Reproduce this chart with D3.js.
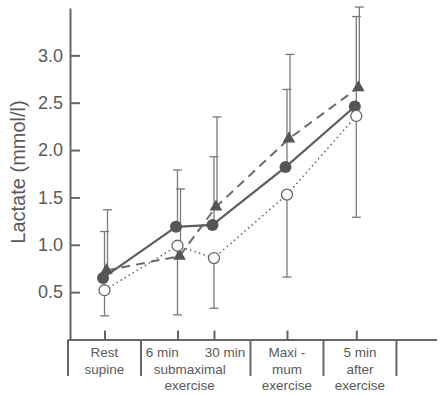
<!DOCTYPE html>
<html>
<head>
<meta charset="utf-8">
<script src="https://cdn.jsdelivr.net/npm/d3@7"></script>
<style>
  body { margin: 0; background: #fff; }
  text { font-family: "Liberation Sans", Arial, sans-serif; fill: #5a5a5a; }
  .axis path, .axis line { stroke: #666; stroke-width: 2; }
  .err { stroke: #7a7a7a; stroke-width: 1.3; fill: none; }
  .sep { stroke: #666; stroke-width: 2; }
</style>
</head>
<body>
<svg id="chart" width="440" height="395"></svg>
<script>
// time points, placed on a "column unit" scale (table columns below the axis)
var timePoints = ['Rest', '6 min', '30 min', 'Maxi', '5 min after'];
var timePos    = [0.5, 1.5, 2.0, 3.0, 3.95];

// mean lactate (mmol/l) and error bar ends
var filledMean = [0.65, 1.19, 1.21, 1.82, 2.46];
var filledTop  = [1.14, 1.79, 1.93, 2.64, 3.41];
var triMean    = [0.73, 0.88, 1.40, 2.12, 2.66];
var triTop     = [1.37, 1.59, 2.35, 3.01, 3.51];
var openMean   = [0.52, 0.99, 0.86, 1.53, 2.36];
var openBottom = [0.25, 0.26, 0.33, 0.66, 1.29];

var yTicks = [0.5, 1.0, 1.5, 2.0, 2.5, 3.0];

// table under the x axis ("|" splits a line into left / right parts)
var colEdges = [0, 1, 2.5, 3.5, 4.5];
var colText = [
  ['Rest', 'supine'],
  ['6 min|30 min', 'submaximal', 'exercise'],
  ['Maxi -', 'mum', 'exercise'],
  ['5 min', 'after', 'exercise']
];

var svg = d3.select('#chart');

var x = d3.scaleLinear().domain([0, 5.05]).range([68, 436.6]);
var y = d3.scaleLinear().domain([0, 3.5]).range([339.5, 8]);

// y axis, ticks pointing inward
var yAxis = d3.axisLeft(y)
  .tickValues(yTicks)
  .tickSize(-10)
  .tickSizeOuter(0)
  .tickPadding(7)
  .tickFormat(d3.format('.1f'));

svg.append('g')
  .attr('class', 'axis')
  .attr('transform', 'translate(70,0)')
  .call(yAxis)
  .selectAll('text')
    .style('font-size', '18px')
    .style('fill', '#5a5a5a');

// x axis line with small upward ticks at each time point
var xAxis = d3.axisBottom(x)
  .tickValues(timePos)
  .tickSize(-9)
  .tickSizeOuter(0)
  .tickFormat('');

svg.append('g')
  .attr('class', 'axis')
  .attr('transform', 'translate(0,' + y(0) + ')')
  .call(xAxis);

// y title
svg.append('text')
  .attr('transform', 'translate(25,' + 172 + ') rotate(-90)')
  .attr('text-anchor', 'middle')
  .style('font-size', '20px')
  .text('Lactate (mmol/l)');

// table separators and labels
svg.append('g').selectAll('line')
  .data(colEdges).enter()
  .append('line')
    .attr('class', 'sep')
    .attr('x1', function(d){ return x(d); })
    .attr('x2', function(d){ return x(d); })
    .attr('y1', y(0))
    .attr('y2', 376);

var labels = svg.append('g');
colText.forEach(function(lines, i){
  var cx = (x(colEdges[i]) + x(colEdges[i + 1])) / 2;
  lines.forEach(function(t, j){
    var ty = 357 + j * 16.5;
    if (t.indexOf('|') >= 0) {
      var parts = t.split('|');
      labels.append('text')
        .attr('x', cx - 17).attr('y', ty)
        .attr('text-anchor', 'end')
        .style('font-size', '13.5px')
        .text(parts[0]);
      labels.append('text')
        .attr('x', cx + 9).attr('y', ty)
        .attr('text-anchor', 'start')
        .style('font-size', '13.5px')
        .text(parts[1]);
      return;
    }
    labels.append('text')
      .attr('x', cx - (i == 1 ? 6 : 0))
      .attr('y', ty)
      .attr('text-anchor', 'middle')
      .style('font-size', '13.5px')
      .text(t);
  });
});

// error bars
function errBars(means, ends, dx) {
  var g = svg.append('g');
  means.forEach(function(m, i){
    var bx = x(timePos[i]) + dx;
    g.append('line').attr('class', 'err')
      .attr('x1', bx).attr('x2', bx)
      .attr('y1', y(m)).attr('y2', y(ends[i]));
    g.append('line').attr('class', 'err')
      .attr('x1', bx - 4.5).attr('x2', bx + 4.5)
      .attr('y1', y(ends[i])).attr('y2', y(ends[i]));
  });
}
errBars(filledMean, filledTop, 0);
errBars(triMean, triTop, 3);
errBars(openMean, openBottom, 0);

// lines
function drawLine(means, dx, width, dash, color) {
  var line = d3.line()
    .x(function(d, i){ return x(timePos[i]) + dx; })
    .y(function(d){ return y(d); });
  svg.append('path')
    .datum(means)
    .attr('d', line)
    .attr('fill', 'none')
    .attr('stroke', color)
    .attr('stroke-width', width)
    .attr('stroke-dasharray', dash);
}
drawLine(openMean, 0, 1.6, '1.5,3.2', '#6a6a6a');
drawLine(triMean, 2, 2, '9,6', '#6a6a6a');
drawLine(filledMean, -1.5, 2.2, null, '#5e5e5e');

// markers
svg.append('g').selectAll('path')
  .data(triMean).enter()
  .append('path')
    .attr('d', d3.symbol().type(d3.symbolTriangle).size(70))
    .attr('transform', function(d, i){ return 'translate(' + (x(timePos[i]) + 2) + ',' + y(d) + ')'; })
    .attr('fill', '#555');

svg.append('g').selectAll('circle')
  .data(filledMean).enter()
  .append('circle')
    .attr('cx', function(d, i){ return x(timePos[i]) - 1.5; })
    .attr('cy', function(d){ return y(d); })
    .attr('r', 6)
    .attr('fill', '#555');

svg.append('g').selectAll('circle')
  .data(openMean).enter()
  .append('circle')
    .attr('cx', function(d, i){ return x(timePos[i]); })
    .attr('cy', function(d){ return y(d); })
    .attr('r', 5.5)
    .attr('fill', '#fff')
    .attr('stroke', '#666')
    .attr('stroke-width', 1.3);
</script>
</body>
</html>
